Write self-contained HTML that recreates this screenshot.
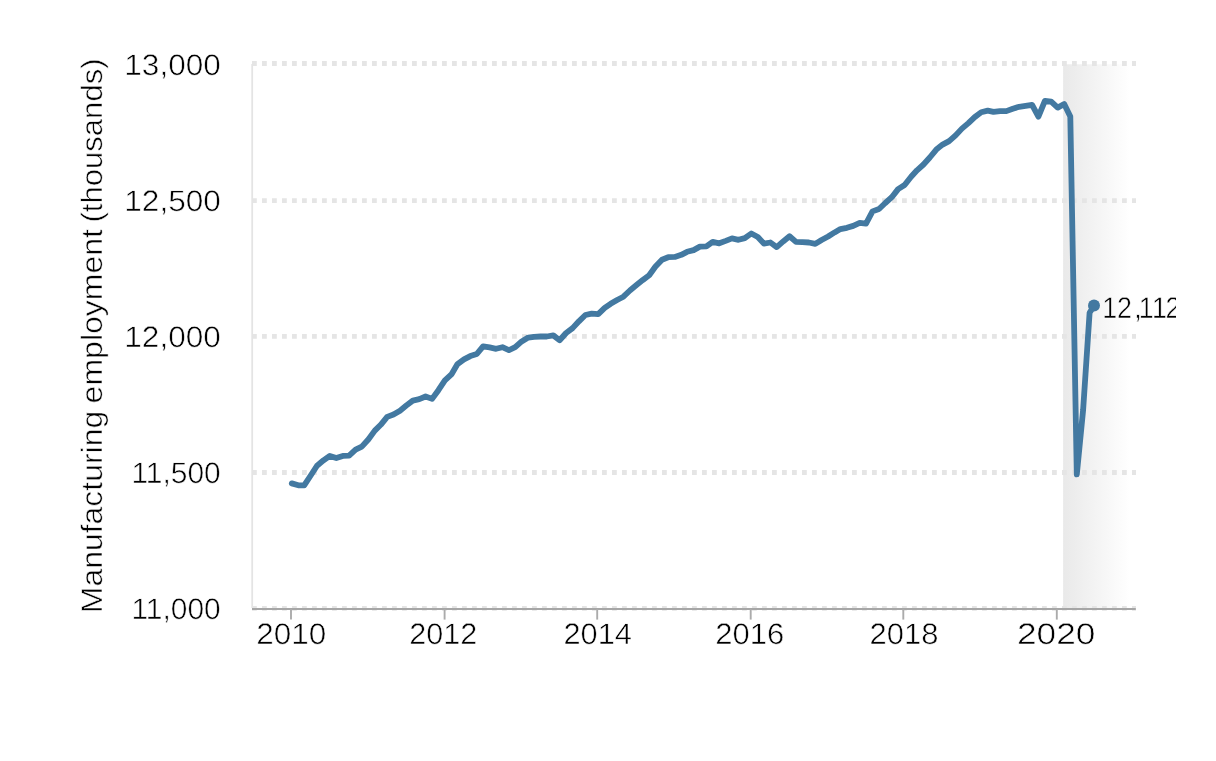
<!DOCTYPE html>
<html lang="en"><head><meta charset="utf-8"><title>Manufacturing employment</title>
<style>html,body{margin:0;padding:0;background:#fff}body{width:1216px;height:761px;overflow:hidden}</style></head>
<body>
<svg width="1216" height="761" viewBox="0 0 1216 761" style="display:block">
<defs><linearGradient id="rec" x1="0" y1="0" x2="1" y2="0"><stop offset="0" stop-color="#e9e9e9"/><stop offset="0.92" stop-color="#ffffff"/></linearGradient><clipPath id="clipr"><rect x="0" y="0" width="1176.1" height="761"/></clipPath></defs>
<rect x="0" y="0" width="1216" height="761" fill="#ffffff"/>
<rect x="1063.1" y="64.3" width="72.7" height="544.6" fill="url(#rec)"/>
<line x1="252" x2="1136" y1="608.4" y2="608.4" stroke="#e5e5e5" stroke-width="4.8" stroke-dasharray="4.8 5.2"/>
<line x1="252" x2="1136" y1="472.5" y2="472.5" stroke="#e5e5e5" stroke-width="4.8" stroke-dasharray="4.8 5.2"/>
<line x1="252" x2="1136" y1="336.4" y2="336.4" stroke="#e5e5e5" stroke-width="4.8" stroke-dasharray="4.8 5.2"/>
<line x1="252" x2="1136" y1="200.6" y2="200.6" stroke="#e5e5e5" stroke-width="4.8" stroke-dasharray="4.8 5.2"/>
<line x1="252" x2="1136" y1="63.5" y2="63.5" stroke="#e5e5e5" stroke-width="4.8" stroke-dasharray="4.8 5.2"/>
<line x1="252.2" x2="252.2" y1="64" y2="608" stroke="#e4e4e4" stroke-width="1.8"/>
<line x1="252.0" x2="1135.8" y1="608.9" y2="608.9" stroke="#a6a6a6" stroke-width="2"/>
<line x1="291.0" x2="291.0" y1="609" y2="619.6" stroke="#ababab" stroke-width="1.9"/>
<text x="256.2" y="643.7" font-family='"Liberation Sans", sans-serif' font-size="29.6" text-rendering="geometricPrecision" fill="#000" stroke="#fff" stroke-width="0.55" textLength="70.0" lengthAdjust="spacingAndGlyphs">2010</text>
<line x1="444.6" x2="444.6" y1="609" y2="619.6" stroke="#ababab" stroke-width="1.9"/>
<text x="409.2" y="643.7" font-family='"Liberation Sans", sans-serif' font-size="29.6" text-rendering="geometricPrecision" fill="#000" stroke="#fff" stroke-width="0.55" textLength="68.1" lengthAdjust="spacingAndGlyphs">2012</text>
<line x1="597.2" x2="597.2" y1="609" y2="619.6" stroke="#ababab" stroke-width="1.9"/>
<text x="563.4" y="643.7" font-family='"Liberation Sans", sans-serif' font-size="29.6" text-rendering="geometricPrecision" fill="#000" stroke="#fff" stroke-width="0.55" textLength="68.5" lengthAdjust="spacingAndGlyphs">2014</text>
<line x1="750.7" x2="750.7" y1="609" y2="619.6" stroke="#ababab" stroke-width="1.9"/>
<text x="715.2" y="643.7" font-family='"Liberation Sans", sans-serif' font-size="29.6" text-rendering="geometricPrecision" fill="#000" stroke="#fff" stroke-width="0.55" textLength="69.0" lengthAdjust="spacingAndGlyphs">2016</text>
<line x1="903.3" x2="903.3" y1="609" y2="619.6" stroke="#ababab" stroke-width="1.9"/>
<text x="869.4" y="643.7" font-family='"Liberation Sans", sans-serif' font-size="29.6" text-rendering="geometricPrecision" fill="#000" stroke="#fff" stroke-width="0.55" textLength="69.0" lengthAdjust="spacingAndGlyphs">2018</text>
<line x1="1056.8" x2="1056.8" y1="609" y2="619.6" stroke="#ababab" stroke-width="1.9"/>
<text x="1017.0" y="643.7" font-family='"Liberation Sans", sans-serif' font-size="29.6" text-rendering="geometricPrecision" fill="#000" stroke="#fff" stroke-width="0.55" textLength="78.5" lengthAdjust="spacingAndGlyphs">2020</text>
<text x="220.8" y="618.7" text-anchor="end" font-family='"Liberation Sans", sans-serif' font-size="29.6" text-rendering="geometricPrecision" fill="#000" stroke="#fff" stroke-width="0.55" textLength="89.4" lengthAdjust="spacingAndGlyphs">11,000</text>
<text x="220.8" y="482.7" text-anchor="end" font-family='"Liberation Sans", sans-serif' font-size="29.6" text-rendering="geometricPrecision" fill="#000" stroke="#fff" stroke-width="0.55" textLength="89.4" lengthAdjust="spacingAndGlyphs">11,500</text>
<text x="220.8" y="346.7" text-anchor="end" font-family='"Liberation Sans", sans-serif' font-size="29.6" text-rendering="geometricPrecision" fill="#000" stroke="#fff" stroke-width="0.55" textLength="96.5" lengthAdjust="spacingAndGlyphs">12,000</text>
<text x="220.8" y="210.7" text-anchor="end" font-family='"Liberation Sans", sans-serif' font-size="29.6" text-rendering="geometricPrecision" fill="#000" stroke="#fff" stroke-width="0.55" textLength="96.5" lengthAdjust="spacingAndGlyphs">12,500</text>
<text x="220.8" y="74.8" text-anchor="end" font-family='"Liberation Sans", sans-serif' font-size="29.6" text-rendering="geometricPrecision" fill="#000" stroke="#fff" stroke-width="0.55" textLength="96.5" lengthAdjust="spacingAndGlyphs">13,000</text>
<g transform="translate(101.5 611) rotate(-90)" font-family='"Liberation Sans", sans-serif' font-size="29.6" text-rendering="geometricPrecision" fill="#000" stroke="#fff" stroke-width="0.55">
<text x="-2.2" y="0" textLength="202.4" lengthAdjust="spacingAndGlyphs">Manufacturing</text>
<text x="207.6" y="0" textLength="174.4" lengthAdjust="spacingAndGlyphs">employment</text>
<text x="388.4" y="0" textLength="164.2" lengthAdjust="spacingAndGlyphs">(thousands)</text>
</g>
<path d="M291.8 483.4 L298.3 485.3 L304.2 485.3 L310.7 475.5 L317.0 465.7 L323.5 460.3 L329.8 455.9 L336.3 458.1 L342.8 455.9 L349.1 455.6 L355.6 449.6 L361.8 446.6 L368.3 439.5 L374.8 430.6 L380.7 424.8 L387.2 416.9 L393.5 414.5 L400.0 410.7 L406.3 405.5 L412.8 400.6 L419.3 399.2 L425.6 396.5 L432.1 398.9 L438.4 390.2 L444.9 380.4 L451.4 374.4 L457.5 364.1 L464.0 359.4 L470.3 356.1 L476.8 354.0 L483.1 346.3 L489.6 347.4 L496.1 348.8 L502.4 347.2 L508.9 350.2 L515.2 347.2 L521.7 341.4 L528.2 337.6 L534.0 336.8 L540.5 336.5 L546.8 336.5 L553.3 335.4 L559.6 340.3 L566.1 333.0 L572.6 328.1 L578.9 321.3 L585.4 315.0 L591.7 313.6 L598.2 314.2 L604.7 307.9 L610.6 303.8 L617.1 300.0 L623.4 296.7 L629.9 290.5 L636.2 285.3 L642.7 280.1 L649.2 275.2 L655.5 266.5 L662.0 259.7 L668.2 257.2 L674.8 256.9 L681.3 254.8 L687.1 251.8 L693.6 250.1 L699.9 246.6 L706.4 246.3 L712.7 241.9 L719.2 243.3 L725.7 240.9 L732.0 238.4 L738.5 239.8 L744.8 238.1 L751.3 233.5 L757.8 237.0 L763.9 243.6 L770.4 242.5 L776.7 247.1 L783.2 241.4 L789.5 236.2 L796.0 241.9 L802.5 242.2 L808.8 242.5 L815.3 243.9 L821.6 240.0 L828.1 236.5 L834.6 232.4 L840.4 229.1 L846.9 227.8 L853.2 225.9 L859.7 222.9 L866.0 223.7 L872.5 211.4 L879.0 209.0 L885.3 203.0 L891.8 197.2 L898.1 189.1 L904.6 185.0 L911.1 176.8 L917.0 170.3 L923.5 164.5 L929.8 157.5 L936.3 149.6 L942.6 144.6 L949.1 141.1 L955.6 135.4 L961.9 128.6 L968.4 123.1 L974.7 117.1 L981.2 112.2 L987.7 110.6 L993.5 111.9 L1000.0 111.1 L1006.3 111.1 L1012.8 108.7 L1019.1 106.8 L1025.6 105.9 L1032.1 104.9 L1038.4 116.6 L1044.9 100.8 L1051.2 101.6 L1057.7 107.6 L1064.2 104.0 L1070.3 116.6 L1076.8 474.4 L1083.1 410.1 L1089.6 312.8 L1094.0 305.7" fill="none" stroke="#4379a1" stroke-width="5.8" stroke-linejoin="round" stroke-linecap="round"/>
<circle cx="1094.0" cy="305.5" r="6" fill="#4379a1"/>
<g clip-path="url(#clipr)"><text transform="translate(1100 317.8) scale(0.9 1)" x="2.4 18.9 38.2 43.2 57.9 72.8" y="0" font-family='"Liberation Sans", sans-serif' font-size="29.8" text-rendering="geometricPrecision" fill="#000" stroke="#fff" stroke-width="0.55">12,112</text></g>
</svg>
</body></html>
